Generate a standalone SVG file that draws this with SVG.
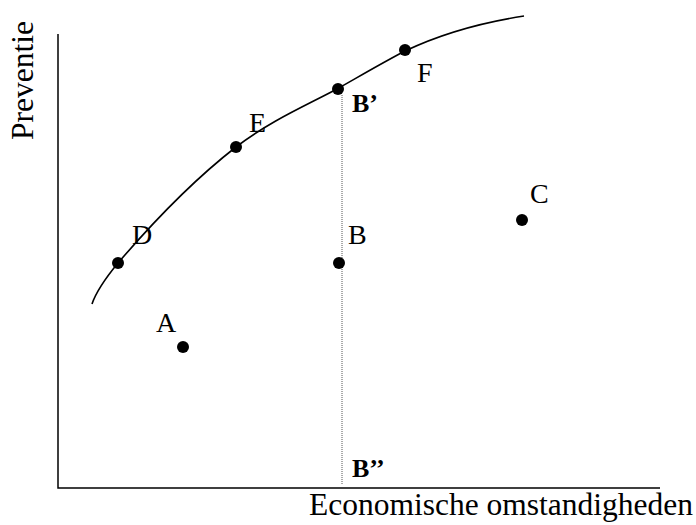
<svg xmlns="http://www.w3.org/2000/svg" width="696" height="525" viewBox="0 0 696 525">
<style>
.lbl{font-family:"Liberation Serif","Times New Roman",serif;font-size:28px;fill:#000}
.bl{font-family:"Liberation Serif","Times New Roman",serif;font-size:26px;font-weight:bold;fill:#000}
.ax{font-family:"Liberation Serif","Times New Roman",serif;font-size:31.5px;fill:#000}
.dot{fill:#000}
</style>
<rect width="696" height="525" fill="#fff"/>
<g id="connectors">
<path id="axes" d="M58,34 V488 H660" fill="none" stroke="#000" stroke-width="1.5"/>
<path id="curve" d="M92,304 C96,292 104,280 118,263 C160,214 200,175 236,147 C270,121 305,106 337,89 C360,76 382,63 405,51 C445,32 485,22 524,16" fill="none" stroke="#000" stroke-width="1.6"/>
<line id="dotted" x1="342" y1="95" x2="342" y2="484" stroke="#555" stroke-width="1" stroke-dasharray="1,1"/>
</g>
<g id="axis-labels">
<text class="ax" x="309" y="515">Economische omstandigheden</text>
<text class="ax" transform="translate(33,140) rotate(-90)">Preventie</text>
</g>
<g id="A"><circle class="dot" cx="183" cy="347" r="6"/><text class="lbl" x="156" y="332">A</text></g>
<g id="B"><circle class="dot" cx="339" cy="263" r="6"/><text class="lbl" x="348" y="244">B</text></g>
<g id="C"><circle class="dot" cx="522" cy="220" r="6"/><text class="lbl" x="530" y="203">C</text></g>
<g id="D"><circle class="dot" cx="118" cy="263" r="6"/><text class="lbl" x="132" y="244">D</text></g>
<g id="E"><circle class="dot" cx="236" cy="147" r="6"/><text class="lbl" x="249" y="132">E</text></g>
<g id="F"><circle class="dot" cx="405" cy="50" r="6"/><text class="lbl" x="417" y="82">F</text></g>
<g id="Bprime"><circle class="dot" cx="338" cy="89" r="6"/><text class="bl" x="352" y="112">B’</text></g>
<g id="Bdoubleprime"><text class="bl" x="352" y="477">B’’</text></g>
</svg>
